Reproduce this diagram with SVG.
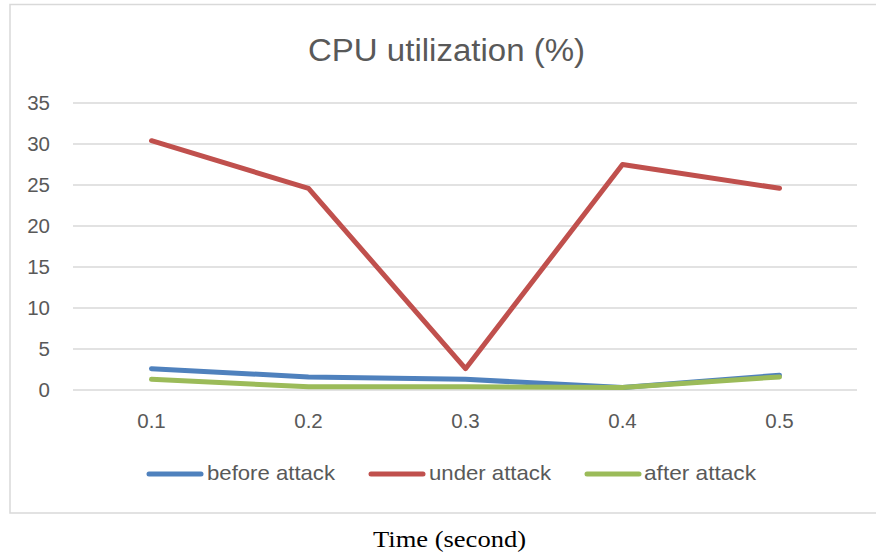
<svg xmlns="http://www.w3.org/2000/svg" width="876" height="554" viewBox="0 0 876 554">
<style>
.grid{stroke:#D9D9D9;stroke-width:1.5;fill:none}
.tick{font-family:"Liberation Sans",Arial,sans-serif;font-size:20.5px;fill:#595959}
.leg{font-family:"Liberation Sans",Arial,sans-serif;font-size:21px;fill:#595959}
.ser{fill:none;stroke-width:5;stroke-linecap:round;stroke-linejoin:round}
.blue{stroke:#4F81BD}.red{stroke:#C0504D}.green{stroke:#9BBB59}
</style>
<rect x="10" y="4.5" width="880" height="508.5" fill="#FFFFFF" stroke="#D9D9D9" stroke-width="1.5"/>
<text id="title" x="446.5" y="61" text-anchor="middle" font-family="'Liberation Sans',Arial,sans-serif" font-size="31" fill="#595959" textLength="277" lengthAdjust="spacingAndGlyphs">CPU utilization (%)</text>
<g id="gridlines">
<line class="grid" x1="73" y1="103" x2="857" y2="103"/>
<line class="grid" x1="73" y1="144" x2="857" y2="144"/>
<line class="grid" x1="73" y1="185" x2="857" y2="185"/>
<line class="grid" x1="73" y1="226" x2="857" y2="226"/>
<line class="grid" x1="73" y1="267" x2="857" y2="267"/>
<line class="grid" x1="73" y1="308" x2="857" y2="308"/>
<line class="grid" x1="73" y1="349" x2="857" y2="349"/>
<line class="grid" x1="73" y1="390" x2="857" y2="390"/>
</g>
<g id="y-axis" text-anchor="end">
<text class="tick" x="50" y="110">35</text>
<text class="tick" x="50" y="151">30</text>
<text class="tick" x="50" y="192">25</text>
<text class="tick" x="50" y="233">20</text>
<text class="tick" x="50" y="274">15</text>
<text class="tick" x="50" y="315">10</text>
<text class="tick" x="50" y="356">5</text>
<text class="tick" x="50" y="397">0</text>
</g>
<g id="x-axis" text-anchor="middle">
<text class="tick" x="151.5" y="428">0.1</text>
<text class="tick" x="308.5" y="428">0.2</text>
<text class="tick" x="465.5" y="428">0.3</text>
<text class="tick" x="622.5" y="428">0.4</text>
<text class="tick" x="779.5" y="428">0.5</text>
</g>
<g id="connectors">
<polyline id="under-attack" class="ser red" points="151.5,140.7 308.5,188.3 465.5,368.7 622.5,164.5 779.5,188.3"/>
<polyline id="before-attack" class="ser blue" points="151.5,368.7 308.5,377 465.5,379.3 622.5,387.5 779.5,375.2"/>
<polyline id="after-attack" class="ser green" points="151.5,379.3 308.5,386.7 465.5,386.7 622.5,387.5 779.5,376.9"/>
</g>
<g id="legend-before">
<line class="ser blue" x1="149" y1="474" x2="201" y2="474"/>
<text class="leg" x="207" y="480" textLength="128" lengthAdjust="spacingAndGlyphs">before attack</text>
</g>
<g id="legend-under">
<line class="ser red" x1="371" y1="474" x2="423" y2="474"/>
<text class="leg" x="429" y="480" textLength="122" lengthAdjust="spacingAndGlyphs">under attack</text>
</g>
<g id="legend-after">
<line class="ser green" x1="587" y1="474" x2="639" y2="474"/>
<text class="leg" x="644" y="480" textLength="112" lengthAdjust="spacingAndGlyphs">after attack</text>
</g>
<text id="x-title" x="373" y="547" font-family="'Liberation Serif','Times New Roman',serif" font-size="24" fill="#000000" textLength="153" lengthAdjust="spacingAndGlyphs">Time (second)</text>
</svg>
